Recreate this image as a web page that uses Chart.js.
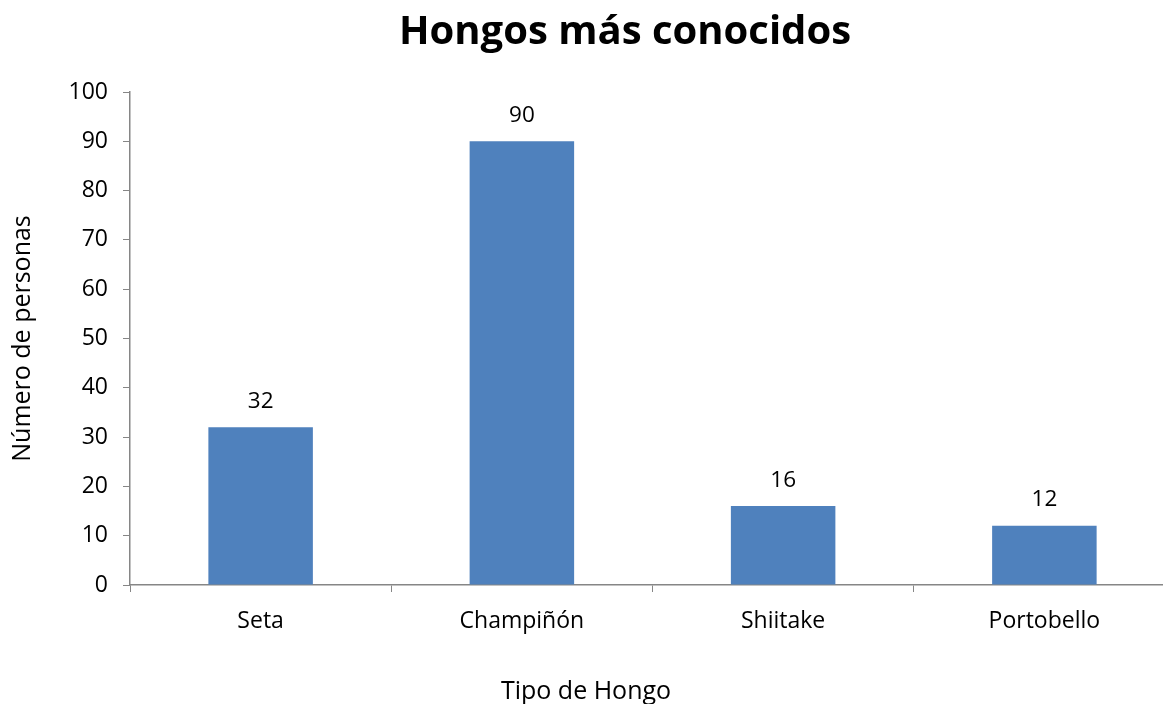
<!DOCTYPE html>
<html lang="es">
<head>
    <meta charset="UTF-8">
    <title>Hongos más conocidos</title>
    <script src="https://cdn.jsdelivr.net/npm/chart.js"></script>
    <style>
        html, body { margin: 0; padding: 0; background: #fff; overflow: hidden; }
        #contenedor { width: 1175px; height: 704px; }
    </style>
</head>
<body>
    <div id="contenedor"><canvas id="grafico"></canvas></div>

    <script>
        // datos
        const categorias = ['Seta', 'Champiñón', 'Shiitake', 'Portobello'];
        const personas = [32, 90, 16, 12];
        const titulo = 'Hongos más conocidos';
        const tituloX = 'Tipo de Hongo';
        const tituloY = 'Número de personas';

        const fuente = "'Open Sans', sans-serif";
        const gris = '#868686';

        // título y título del eje X colocados a mano, como en el original
        const pluginTitulos = {
            id: 'titulosPropios',
            afterDraw(chart) {
                const ctx = chart.ctx;
                ctx.save();
                ctx.fillStyle = '#000';
                ctx.textAlign = 'center';
                ctx.textBaseline = 'middle';
                ctx.font = 'bold 40px ' + fuente;
                ctx.fillText(titulo, 625, 33);
                ctx.textBaseline = 'alphabetic';
                ctx.font = '25px ' + fuente;
                ctx.fillText(tituloX, 586, 699);
                ctx.restore();
            }
        };

        // etiquetas de valor encima de cada barra
        const pluginValores = {
            id: 'valores',
            afterDatasetsDraw(chart) {
                const ctx = chart.ctx;
                const meta = chart.getDatasetMeta(0);
                ctx.save();
                ctx.font = '22.5px ' + fuente;
                ctx.fillStyle = '#000';
                ctx.textAlign = 'center';
                ctx.textBaseline = 'middle';
                meta.data.forEach(function(barra, i) {
                    ctx.fillText(personas[i], barra.x, barra.y - 26);
                });
                ctx.restore();
            }
        };

        new Chart(document.getElementById('grafico'), {
            type: 'bar',
            data: {
                labels: categorias,
                datasets: [{
                    data: personas,
                    backgroundColor: '#4F81BD',
                    borderWidth: 0,
                    barPercentage: 0.4,
                    categoryPercentage: 1
                }]
            },
            options: {
                responsive: true,
                maintainAspectRatio: false,
                animation: false,
                layout: { padding: { top: 92, left: 0, right: 0, bottom: 0 } },
                plugins: {
                    legend: { display: false },
                    title: { display: false },
                    tooltip: { enabled: false }
                },
                scales: {
                    x: {
                        offset: true,
                        afterFit: function(scale) { scale.height = 119; },
                        grid: {
                            offset: true,
                            drawOnChartArea: false,
                            drawTicks: true,
                            tickLength: 7,
                            color: gris
                        },
                        border: { color: gris, width: 1.5 },
                        ticks: {
                            color: '#000',
                            font: { family: fuente, size: 23 },
                            padding: 16
                        },
                        title: { display: false }
                    },
                    y: {
                        min: 0,
                        max: 100,
                        afterFit: function(scale) { scale.width = 130; },
                        grid: {
                            drawOnChartArea: false,
                            drawTicks: true,
                            tickLength: 7,
                            color: gris
                        },
                        border: { color: gris, width: 1.5 },
                        ticks: {
                            stepSize: 10,
                            color: '#000',
                            font: { family: fuente, size: 23 },
                            padding: 15
                        },
                        title: {
                            display: true,
                            text: tituloY,
                            color: '#000',
                            font: { family: fuente, size: 25 },
                            padding: { top: 8, bottom: 0 }
                        }
                    }
                }
            },
            plugins: [pluginTitulos, pluginValores]
        });
    </script>
</body>
</html>
